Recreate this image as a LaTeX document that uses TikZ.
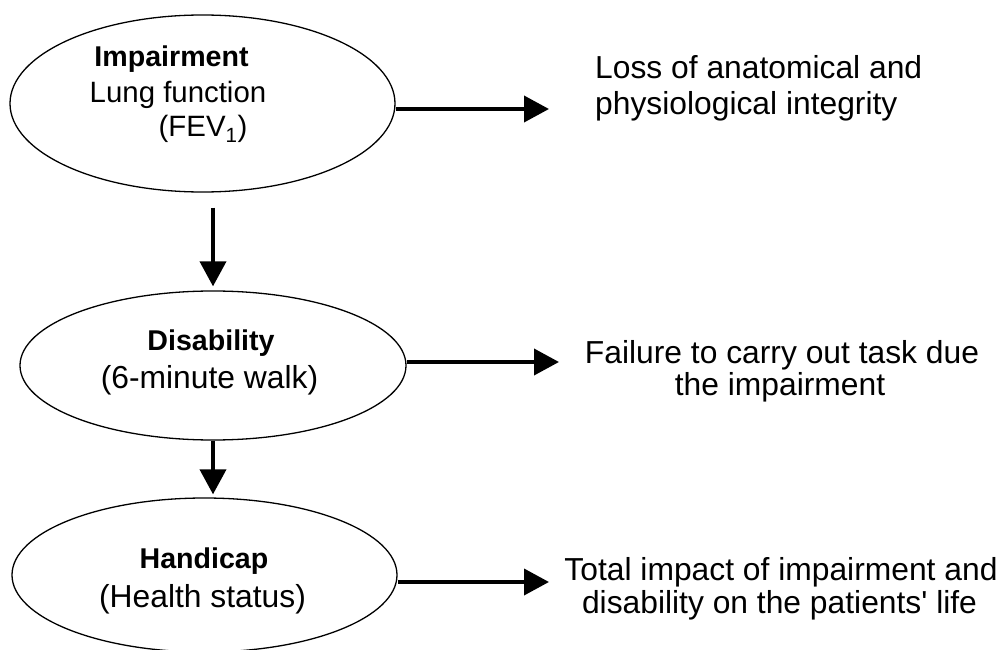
\documentclass[tikz,border=0pt]{standalone}
\usepackage{fontspec}
\setmainfont{Liberation Sans}[Ligatures=TeXOff]
\usetikzlibrary{shapes.geometric,arrows.meta}
\tikzset{
  ell/.style={draw, ellipse, line width=1.3pt, inner sep=0pt},
  arr/.style={line width=3.8pt, -{Triangle[length=25pt,width=26pt]}},
  lbl/.style={inner sep=0pt, font=\fontsize{31.8}{34}\selectfont},
  lblsm/.style={inner sep=0pt, font=\fontsize{29.4}{34}\selectfont},
  bld/.style={inner sep=0pt, font=\fontsize{28.6}{34}\selectfont\bfseries},
}
\begin{document}
\begin{tikzpicture}[x=1pt,y=-1pt]
\useasboundingbox (0,0) rectangle (1007,650);
% ellipses
\node[ell, minimum width=385pt, minimum height=177pt] (e1) at (202.5,103.5) {};
\node[ell, minimum width=386pt, minimum height=149pt] (e2) at (213,365.5) {};
\node[ell, minimum width=385pt, minimum height=154pt] (e3) at (204.5,575) {};
% ellipse texts
\node[bld, anchor=base] (i1) at (171.5,66.7) {Impairment};
\node[lblsm, anchor=base] (i2) at (178,103) {Lung function};
\node[lblsm, anchor=base] (i3) at (203,136.5) {(FEV\textsubscript{1})};
\node[bld, anchor=base] (d1) at (211,350.7) {Disability};
\node[lbl, anchor=base] (d2) at (209.5,388) {(6-minute walk)};
\node[bld, anchor=base] (h1t) at (204,568) {Handicap};
\node[lbl, anchor=base] (h2t) at (202.5,607) {(Health status)};
% right texts
\node[lbl, anchor=base west] (t1a) at (595,79) {Loss of anatomical and};
\node[lbl, anchor=base west] (t1b) at (595,115) {physiological integrity};
\node[lbl, anchor=base] (t2a) at (782,363) {Failure to carry out task due};
\node[lbl, anchor=base] (t2b) at (780,395) {the impairment};
\node[lbl, anchor=base] (t3a) at (781,580) {Total impact of impairment and};
\node[lbl, anchor=base] (t3b) at (779.5,613) {disability on the patients' life};
% arrow tips
\coordinate (p1) at (549,109);
\coordinate (p2) at (559,362);
\coordinate (p3) at (549,582);
% connectors
\draw[arr] (e1.east |- p1) -- (p1);
\draw[arr] (e2.east |- p2) -- (p2);
\draw[arr] (e3.east |- p3) -- (p3);
\draw[arr, shorten >=4pt] ([yshift=-15pt]e1.south -| e2.north) -- (e2.north);
\draw[arr, shorten >=3pt] (e2.south) -- (e2.south |- e3.north);
\end{tikzpicture}
\end{document}
